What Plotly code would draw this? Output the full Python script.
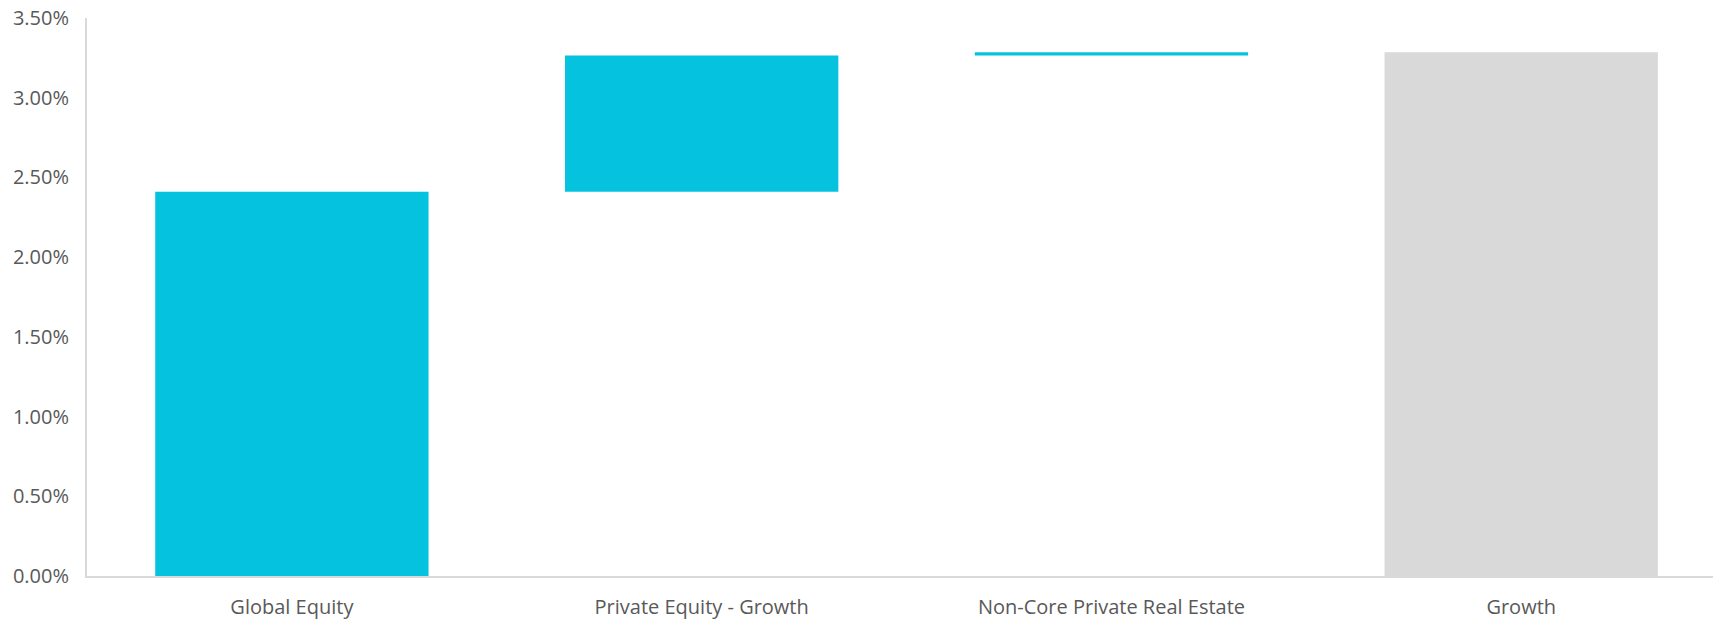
import plotly.graph_objects as go

# Contribution of each asset class to the Growth total (as fractions)
categories = ["Global Equity", "Private Equity - Growth", "Non-Core Private Real Estate", "Growth"]
contributions = [0.0241, 0.00855, 0.0002, None]
measures = ["relative", "relative", "relative", "total"]

y_ticks = [0.0, 0.005, 0.01, 0.015, 0.02, 0.025, 0.03, 0.035]

CYAN = "#05C3DE"
GREY = "#D9D9D9"
TEXT = "#595959"

fig = go.Figure(
    go.Waterfall(
        x=categories,
        y=[v if v is not None else 0 for v in contributions],
        measure=measures,
        increasing=dict(marker=dict(color=CYAN, line=dict(width=0))),
        decreasing=dict(marker=dict(color=CYAN, line=dict(width=0))),
        totals=dict(marker=dict(color=GREY, line=dict(width=0))),
        connector=dict(visible=False),
        textposition="none",
        hoverinfo="x+y",
    )
)

fig.update_layout(
    width=1713,
    height=621,
    margin=dict(l=87, r=0, t=18, b=45),
    paper_bgcolor="white",
    plot_bgcolor="white",
    showlegend=False,
    waterfallgap=0.333,
    font=dict(family="Open Sans, Segoe UI, sans-serif", color=TEXT, size=20),
    xaxis=dict(
        range=[-0.5, 3.468],
        automargin=False,
        showgrid=False,
        showline=True,
        linecolor="#D9D9D9",
        linewidth=2,
        ticks="",
        ticklabelstandoff=12,
        tickfont=dict(size=20, color=TEXT),
        zeroline=False,
    ),
    yaxis=dict(
        range=[0, 0.035],
        automargin=False,
        tickvals=y_ticks,
        tickformat=".2%",
        showgrid=False,
        showline=True,
        linecolor="#D9D9D9",
        linewidth=2,
        ticks="",
        ticklabelstandoff=12,
        tickfont=dict(size=20, color=TEXT),
        zeroline=False,
    ),
)

fig.write_html("out.html")
